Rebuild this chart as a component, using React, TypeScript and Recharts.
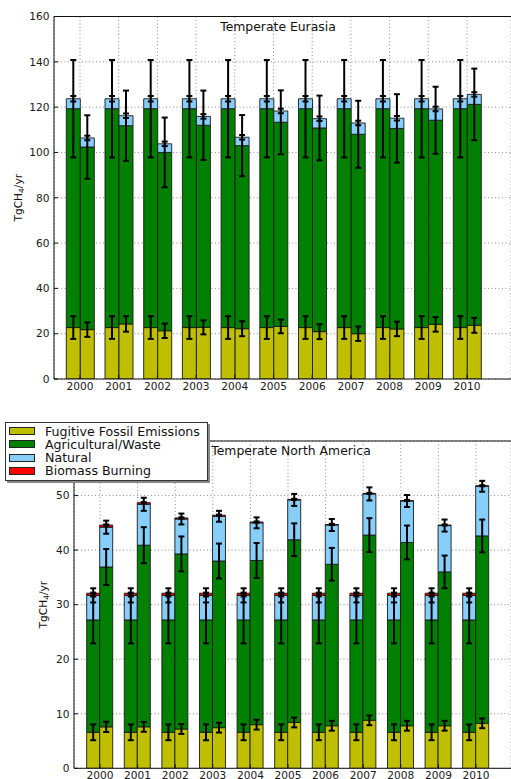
import React from 'react';
import {
  ComposedChart, Bar, XAxis, YAxis, CartesianGrid, ErrorBar, ReferenceLine, Legend,
} from 'recharts';

const FONT = '"DejaVu Sans", Verdana, sans-serif';

const years = ['2000', '2001', '2002', '2003', '2004', '2005', '2006', '2007', '2008', '2009', '2010'];

// Temperate Eurasia: prior (left bar of each pair)
const euPriorFossil = [22.7, 22.7, 22.7, 22.7, 22.7, 22.7, 22.7, 22.7, 22.7, 22.7, 22.7];
const euPriorFossilErr = [5.0, 5.0, 5.0, 5.0, 5.0, 5.0, 5.0, 5.0, 5.0, 5.0, 5.0];
const euPriorAgri = [96.6, 96.6, 96.6, 96.6, 96.6, 96.6, 96.6, 96.6, 96.6, 96.6, 96.6];
const euPriorAgriErr = [21.5, 21.5, 21.5, 21.5, 21.5, 21.5, 21.5, 21.5, 21.5, 21.5, 21.5];
const euPriorNatural = [4.4, 4.4, 4.4, 4.4, 4.4, 4.4, 4.4, 4.4, 4.4, 4.4, 4.4];
const euPriorNaturalErr = [1.2, 1.2, 1.2, 1.2, 1.2, 1.2, 1.2, 1.2, 1.2, 1.2, 1.2];

// Temperate Eurasia: posterior (right bar)
const euPostFossil = [21.8, 24.3, 21.3, 22.8, 22.2, 23.2, 20.9, 20.0, 22.1, 24.1, 23.7];
const euPostFossilErr = [3.2, 3.4, 3.2, 3.1, 3.3, 3.0, 3.3, 3.2, 3.2, 3.2, 3.3];
const euPostAgri = [80.6, 87.5, 78.7, 89.2, 80.8, 90.1, 89.9, 88.0, 88.5, 90.1, 97.5];
const euPostAgriErr = [14.0, 15.5, 15.4, 15.3, 13.5, 14.1, 14.3, 14.8, 15.1, 14.8, 15.8];
const euPostNatural = [4.0, 4.4, 3.8, 3.9, 3.7, 5.0, 4.1, 5.0, 4.5, 5.0, 4.4];
const euPostNaturalErr = [1.0, 1.0, 1.0, 1.0, 1.0, 1.0, 1.0, 1.0, 1.0, 1.0, 1.0];

// Temperate North America: prior
const naPriorFossil = [6.6, 6.6, 6.6, 6.6, 6.6, 6.6, 6.6, 6.6, 6.6, 6.6, 6.6];
const naPriorFossilErr = [1.45, 1.45, 1.45, 1.45, 1.45, 1.45, 1.45, 1.45, 1.45, 1.45, 1.45];
const naPriorAgri = [20.6, 20.6, 20.6, 20.6, 20.6, 20.6, 20.6, 20.6, 20.6, 20.6, 20.6];
const naPriorAgriErr = [4.3, 4.3, 4.3, 4.3, 4.3, 4.3, 4.3, 4.3, 4.3, 4.3, 4.3];
const naPriorNatural = [4.5, 4.5, 4.5, 4.5, 4.5, 4.5, 4.5, 4.5, 4.5, 4.5, 4.5];
const naPriorNaturalErr = [1.3, 1.3, 1.3, 1.3, 1.3, 1.3, 1.3, 1.3, 1.3, 1.3, 1.3];
const naPriorFire = [0.4, 0.4, 0.4, 0.4, 0.4, 0.4, 0.4, 0.4, 0.4, 0.4, 0.4];
const naPriorFireErr = [0.1, 0.1, 0.1, 0.1, 0.1, 0.1, 0.1, 0.1, 0.1, 0.1, 0.1];

// Temperate North America: posterior
const naPostFossil = [7.6, 7.6, 7.2, 7.45, 8.0, 8.4, 7.8, 8.8, 7.8, 7.8, 8.25];
const naPostFossilErr = [0.95, 0.9, 0.9, 0.9, 0.9, 0.9, 0.9, 0.9, 0.9, 0.9, 0.9];
const naPostAgri = [29.3, 33.3, 32.1, 30.55, 30.1, 33.5, 29.6, 33.95, 33.6, 28.2, 34.35];
const naPostAgriErr = [3.3, 3.3, 3.2, 3.2, 3.2, 3.0, 3.0, 3.1, 3.1, 3.0, 3.0];
const naPostNatural = [7.3, 7.5, 6.4, 8.2, 6.9, 7.3, 7.2, 7.55, 7.6, 8.5, 9.1];
const naPostNaturalErr = [1.2, 1.2, 1.0, 1.0, 1.0, 1.1, 1.1, 1.2, 1.1, 1.1, 1.0];
const naPostFire = [0.4, 0.3, 0.2, 0.2, 0.15, 0.1, 0.1, 0.1, 0.1, 0.1, 0.1];
const naPostFireErr = [0.1, 0.1, 0.1, 0.1, 0.1, 0.1, 0.1, 0.1, 0.1, 0.1, 0.1];

const euTicks = [0, 20, 40, 60, 80, 100, 120, 140, 160];
const naTicks = [0, 10, 20, 30, 40, 50];

const layers = [
  { key: 'Fossil', name: 'Fugitive Fossil Emissions', color: '#bfbf00' },
  { key: 'Agri', name: 'Agricultural/Waste', color: '#008000' },
  { key: 'Natural', name: 'Natural', color: '#87cefa' },
  { key: 'Fire', name: 'Biomass Burning', color: '#ff0000' },
];
const stacks = ['prior', 'post'];

function buildRows(cols: Record<string, number[]>) {
  return years.map((year, i) => {
    const row: Record<string, string | number> = { year };
    Object.keys(cols).forEach((k) => { row[k] = cols[k][i]; });
    return row;
  });
}

const euRows = buildRows({
  priorFossil: euPriorFossil, priorFossilErr: euPriorFossilErr,
  priorAgri: euPriorAgri, priorAgriErr: euPriorAgriErr,
  priorNatural: euPriorNatural, priorNaturalErr: euPriorNaturalErr,
  postFossil: euPostFossil, postFossilErr: euPostFossilErr,
  postAgri: euPostAgri, postAgriErr: euPostAgriErr,
  postNatural: euPostNatural, postNaturalErr: euPostNaturalErr,
});

const naRows = buildRows({
  priorFossil: naPriorFossil, priorFossilErr: naPriorFossilErr,
  priorAgri: naPriorAgri, priorAgriErr: naPriorAgriErr,
  priorNatural: naPriorNatural, priorNaturalErr: naPriorNaturalErr,
  priorFire: naPriorFire, priorFireErr: naPriorFireErr,
  postFossil: naPostFossil, postFossilErr: naPostFossilErr,
  postAgri: naPostAgri, postAgriErr: naPostAgriErr,
  postNatural: naPostNatural, postNaturalErr: naPostNaturalErr,
  postFire: naPostFire, postFireErr: naPostFireErr,
});

const tickStyle = { fontSize: 10.6, fill: '#1a1a1a', fontFamily: FONT };

function LegendBox() {
  return (
    <div
      style={{
        width: 203, height: 59, boxSizing: 'border-box', background: '#fff',
        border: '1px solid #333', boxShadow: '2px 2px 0 #8a8a8a',
        padding: '1.7px 0 0 3px', fontFamily: FONT, fontSize: 12.6, color: '#111',
      }}
    >
      {layers.map((l) => (
        <div key={l.key} style={{ display: 'flex', alignItems: 'center', height: 13.2, lineHeight: '13.2px', whiteSpace: 'nowrap' }}>
          <span
            style={{
              display: 'inline-block', width: 26, height: 8, boxSizing: 'border-box',
              background: l.color, border: '1px solid #222', marginRight: 10,
            }}
          />
          <span>{l.name}</span>
        </div>
      ))}
    </div>
  );
}

interface PanelProps {
  rows: Record<string, string | number>[];
  keys: string[];
  top: number;
  height: number;
  marginTop: number;
  axisWidth: number;
  xAxisHeight: number;
  yMax: number;
  yTicks: number[];
  pad: { left: number; right: number };
  title: string;
  titleX: number;
  labelX: number;
  withLegend?: boolean;
  legendTop?: number;
}

function Panel(p: PanelProps) {
  const used = layers.filter((l) => p.keys.includes(l.key));
  const common = {
    width: 511,
    height: p.height,
    data: p.rows,
    margin: { top: p.marginTop, right: 0, bottom: 0, left: 0 },
    barGap: 0,
    barCategoryGap: '14.6%',
  };

  const titleContent = (props: any) => {
    const vb = props.viewBox || {};
    return (
      <text x={p.titleX} y={(vb.y ?? 0) + 9.5} textAnchor="middle" dominantBaseline="central"
        style={{ fontFamily: FONT, fontSize: 12.4, fill: '#111' }}>
        {p.title}
      </text>
    );
  };

  const unitContent = (props: any) => {
    const vb = props.viewBox || {};
    const cx = p.labelX;
    const cy = (vb.y ?? 0) + (vb.height ?? 0) / 2;
    return (
      <text x={cx} y={cy} transform={`rotate(-90 ${cx} ${cy})`} textAnchor="middle" dominantBaseline="central"
        style={{ fontFamily: FONT, fontSize: 10.6, fill: '#111' }}>
        TgCH<tspan dy={3} fontSize={7.5}>4</tspan><tspan dy={-3}>/yr</tspan>
      </text>
    );
  };

  return (
    <div style={{ position: 'absolute', left: 0, top: p.top, width: 511, height: p.height }}>
      <div style={{ position: 'absolute', left: 0, top: 0 }}>
        <ComposedChart {...common}>
          <CartesianGrid stroke="#8c8c8c" strokeDasharray="1 2.5" />
          <XAxis
            dataKey="year" interval={0} height={p.xAxisHeight} padding={p.pad}
            tick={tickStyle} tickSize={-4} tickMargin={7}
            axisLine={{ stroke: '#111' }} tickLine={{ stroke: '#111' }}
          />
          <YAxis
            type="number" width={p.axisWidth} domain={[0, p.yMax]} ticks={p.yTicks} allowDataOverflow
            tick={tickStyle} tickSize={-4} tickMargin={8.5}
            axisLine={{ stroke: '#111' }} tickLine={{ stroke: '#111' }}
            label={{ content: unitContent }}
          />
          {stacks.flatMap((s) => used.map((l) => (
            <Bar
              key={s + l.key} dataKey={s + l.key} stackId={s} name={l.name}
              fill={l.color} stroke="#1a1a1a" strokeWidth={0.9} isAnimationActive={false}
            />
          )))}
          <ReferenceLine y={p.yMax} stroke="#111" ifOverflow="visible" label={{ content: titleContent }} />
        </ComposedChart>
      </div>
      <div style={{ position: 'absolute', left: 0, top: 0 }}>
        <ComposedChart {...common}>
          <XAxis dataKey="year" interval={0} height={p.xAxisHeight} padding={p.pad}
            tick={false} tickLine={false} axisLine={false} />
          <YAxis type="number" width={p.axisWidth} domain={[0, p.yMax]} ticks={p.yTicks} allowDataOverflow
            tick={false} tickLine={false} axisLine={false} />
          {stacks.flatMap((s) => used.map((l) => (
            <Bar
              key={s + l.key} dataKey={s + l.key} stackId={s} name={l.name}
              fill="none" stroke="none" isAnimationActive={false}
            >
              <ErrorBar dataKey={s + l.key + 'Err'} width={3} strokeWidth={2} stroke="#000" direction="y" isAnimationActive={false} />
            </Bar>
          )))}
          {p.withLegend && (
            <Legend
              layout="horizontal" verticalAlign="middle" align="center"
              wrapperStyle={{ top: p.legendTop, left: 5, width: 205, height: 61 }}
              content={() => <LegendBox />}
            />
          )}
        </ComposedChart>
      </div>
    </div>
  );
}

export default function App() {
  return (
    <div style={{ position: 'absolute', left: 0, top: 0, width: 511, height: 779, overflow: 'hidden', background: '#fff' }}>
      <Panel
        rows={euRows} keys={['Fossil', 'Agri', 'Natural']}
        top={0} height={400} marginTop={16.5} axisWidth={54} xAxisHeight={21}
        yMax={160} yTicks={euTicks} pad={{ left: 6.65, right: 24.65 }}
        title="Temperate Eurasia" titleX={278} labelX={18}
      />
      <Panel
        rows={naRows} keys={['Fossil', 'Agri', 'Natural', 'Fire']}
        top={400} height={390} marginTop={41} axisWidth={74} xAxisHeight={21.7}
        yMax={60} yTicks={naTicks} pad={{ left: 7.2, right: 16.2 }}
        title="Temperate North America" titleX={291} labelX={43}
        withLegend legendTop={22}
      />
    </div>
  );
}
